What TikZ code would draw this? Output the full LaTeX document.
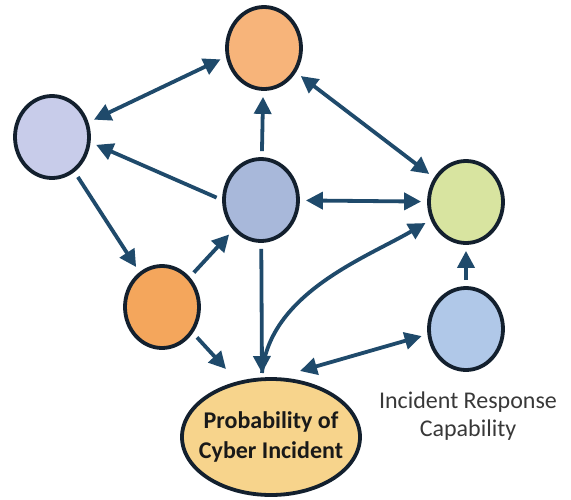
\documentclass[tikz,border=0pt]{standalone}
\usepackage{fontspec}
\setmainfont{Carlito}
\usepackage{tikz}
\usetikzlibrary{arrows.meta,shapes.geometric}

\definecolor{rim}{HTML}{13202E}
\definecolor{wire}{HTML}{1F4A6B}
\definecolor{peach}{HTML}{F7B47A}
\definecolor{lilac}{HTML}{C8CCEA}
\definecolor{steel}{HTML}{A8B8DA}
\definecolor{lime}{HTML}{D8E4A0}
\definecolor{amber}{HTML}{F4A65C}
\definecolor{sky}{HTML}{B0C8E8}
\definecolor{sand}{HTML}{F7D48C}

\begin{document}
\begin{tikzpicture}[x=1pt,y=-1pt,
	ball/.style={ellipse, draw=rim, line width=3.8pt, minimum width=74pt, minimum height=82pt, inner sep=0pt},
	conn/.style={color=wire, line width=3.8pt, >={Triangle[length=17pt,width=17pt]}, shorten >=6pt, shorten <=6pt}]
\useasboundingbox (0,0) rectangle (571,499);

\node[ball, fill=peach] (t) at (264,48) {};
\node[ball, fill=lilac] (l) at (52,137) {};
\node[ball, fill=steel] (c) at (261,200) {};
\node[ball, fill=lime]  (g) at (466,202) {};
\node[ball, fill=amber] (o) at (162,307) {};
\node[ball, fill=sky]   (r) at (466,329) {};
\node[ellipse, draw=rim, line width=3.8pt, fill=sand, minimum width=178pt, minimum height=116pt,
	inner xsep=-14pt, inner ysep=0pt, align=center, text=black!90,
	font=\fontsize{24}{30}\selectfont\bfseries] (p) at (271,437) {Probability of\\Cyber Incident};
\node[anchor=north, inner sep=0pt, align=center, text=black!78,
	font=\fontsize{24}{28}\selectfont] (cap) at (468,392) {Incident Response\\Capability};

% ends just above the big ellipse
\coordinate (pl) at (226,369);
\coordinate (pm) at (262,373);
\coordinate (pr) at (300,371);

%\path[<->,conn] (l) edge (t);
\path[conn,<->]
(l.22) edge (t.193)
(t) edge (g)
(c) edge (g)
(pr) edge[shorten <=0pt] (r.188);
\path[conn,->]
(c) edge (t)
(c.180) edge (l.-8)
(l) edge (o)
(o) edge (c)
(r) edge (g)
(o.-40) edge[shorten >=0pt] (pl)
(c) edge[shorten >=0pt] (pm);
\draw[conn,->,shorten <=0pt] (pm) .. controls +(8,-80) and +(-65,38) .. (g.207);
\end{tikzpicture}
\end{document}
